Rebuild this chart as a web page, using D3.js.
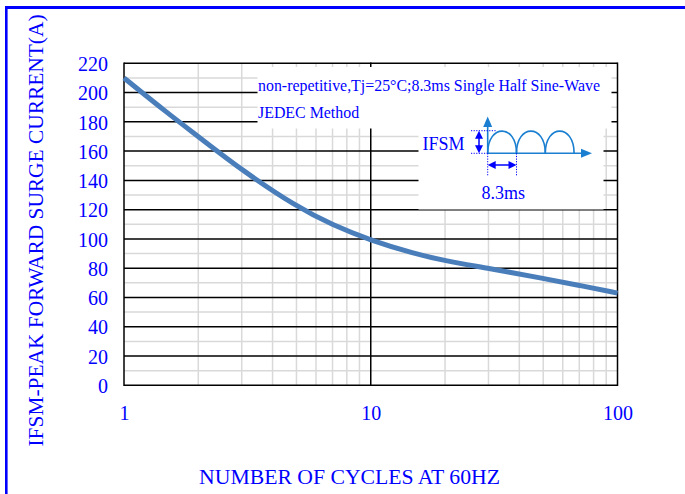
<!DOCTYPE html>
<html><head><meta charset="utf-8">
<script src="https://cdn.jsdelivr.net/npm/d3@7"></script>
<style>
html,body{margin:0;padding:0;background:#fff;}
svg{display:block;font-family:"Liberation Serif","Times New Roman",serif;}
</style></head>
<body>
<svg id="chart" width="685" height="494"></svg>
<script>
// ---- data ----
const cycles = [1, 1.5, 2, 3, 5, 7, 10, 15, 20, 30, 50, 70, 100];
const surge  = [210, 186, 170, 147, 122, 109.5, 99, 90, 85, 80, 73, 68.3, 63];
const yTicks = [0, 20, 40, 60, 80, 100, 120, 140, 160, 180, 200, 220];
const xTicks = [1, 10, 100];
const xMinor = [2,3,4,5,6,7,8,9,20,30,40,50,60,70,80,90];
const yMinor = [10,30,50,70,90,110,130,150,170,190,210];
const noteLines = ["non-repetitive,Tj=25°C;8.3ms Single Half Sine-Wave", "JEDEC Method"];
const xTitle = "NUMBER OF CYCLES AT 60HZ";
const yTitle = "IFSM-PEAK FORWARD SURGE CURRENT(A)";

(function () {
const svg = d3.select("#chart");
const L = 124, R = 617.5, T = 63.3, B = 385.3;
const x = d3.scaleLog().domain([1, 100]).range([L, R]);
const y = d3.scaleLinear().domain([0, 220]).range([B, T]);
const BLUE = "#0000ff";

// frame
svg.append("line").attr("x1", 5).attr("x2", 685).attr("y1", 7.5).attr("y2", 7.5).attr("stroke", BLUE).attr("stroke-width", 3);
svg.append("line").attr("x1", 6.3).attr("x2", 6.3).attr("y1", 6).attr("y2", 494).attr("stroke", BLUE).attr("stroke-width", 2.6);

// minor grid
const g = svg.append("g");
g.selectAll(".vm").data(xMinor).join("line")
  .attr("x1", d => x(d)).attr("x2", d => x(d)).attr("y1", T).attr("y2", B)
  .attr("stroke", "#d9d9d9").attr("stroke-width", 1.5);
g.selectAll(".hm").data(yMinor).join("line")
  .attr("x1", L).attr("x2", R).attr("y1", d => y(d)).attr("y2", d => y(d))
  .attr("stroke", "#d9d9d9").attr("stroke-width", 1.5);
// major grid
g.selectAll(".hM").data(yTicks).join("line")
  .attr("x1", L).attr("x2", R).attr("y1", d => y(d)).attr("y2", d => y(d))
  .attr("stroke", "#000").attr("stroke-width", 1.5);
g.selectAll(".vM").data(xTicks).join("line")
  .attr("x1", d => x(d)).attr("x2", d => x(d)).attr("y1", T - 0.75).attr("y2", B + 0.75)
  .attr("stroke", "#000").attr("stroke-width", 1.5);

// curve
const pts = cycles.map((c, i) => [c, surge[i]]);
svg.append("path").datum(pts)
  .attr("d", d3.line().x(d => x(d[0])).y(d => y(d[1])).curve(d3.curveBasis))
  .attr("fill", "none").attr("stroke", "#4a7ebb").attr("stroke-width", 5);

// axes labels
const ya = svg.append("g").attr("transform", `translate(${L},0)`)
  .call(d3.axisLeft(y).tickValues(yTicks).tickSize(0).tickPadding(16));
ya.select(".domain").remove();
ya.selectAll("text").attr("font-family", "Liberation Serif, serif").attr("font-size", 20).attr("fill", BLUE).attr("dy", "0.36em");

const xa = svg.append("g").attr("transform", `translate(0,${B})`)
  .call(d3.axisBottom(x).tickValues(xTicks).tickFormat(d3.format("d")).tickSize(0).tickPadding(21));
xa.select(".domain").remove();
xa.selectAll("text").attr("font-family", "Liberation Serif, serif").attr("font-size", 20).attr("fill", BLUE);

// titles
svg.append("text").attr("x", 349.5).attr("y", 484).attr("text-anchor", "middle")
  .attr("font-size", 21.7).attr("fill", BLUE).text(xTitle);
svg.append("text").attr("transform", "translate(43,230.5) rotate(-90)").attr("text-anchor", "middle")
  .attr("font-size", 21.4).attr("fill", BLUE).text(yTitle);

// white boxes
svg.append("rect").attr("x", 257.5).attr("y", 67).attr("width", 354).attr("height", 61.5).attr("fill", "#fff");
svg.append("rect").attr("x", 418.5).attr("y", 128).attr("width", 185).attr("height", 81.5).attr("fill", "#fff");

// note text
svg.selectAll(".note").data(noteLines).join("text")
  .attr("x", 258).attr("y", (d, i) => 91 + i * 26.6)
  .attr("font-size", 15.9).attr("fill", BLUE).text(d => d);

// diagram
const dg = svg.append("g");
const ox = 487.7, oy = 153.3, topY = 130.7, period = 28.8;
const ACC = "#1a7fd0";
dg.append("line").attr("x1", ox).attr("x2", ox).attr("y1", oy).attr("y2", 126).attr("stroke", ACC).attr("stroke-width", 1.6);
dg.append("path").attr("d", `M${ox - 4.5},127 L${ox},116.5 L${ox + 4.5},127 Z`).attr("fill", ACC);
dg.append("line").attr("x1", ox).attr("x2", 582).attr("y1", oy).attr("y2", oy).attr("stroke", ACC).attr("stroke-width", 1.6);
dg.append("path").attr("d", `M581,${oy - 4.5} L592,${oy} L581,${oy + 4.5} Z`).attr("fill", ACC);
const humps = [0, 1, 2];
dg.selectAll(".hump").data(humps).join("path")
  .attr("d", i => {
    const x0 = ox + i * period, x1 = x0 + period;
    return `M${x0},${oy} C${x0},${topY - 7} ${x1},${topY - 7} ${x1},${oy}`;
  })
  .attr("fill", "none").attr("stroke", ACC).attr("stroke-width", 1.6);
// dotted guides
const dot = (x1, y1, x2, y2) => dg.append("line").attr("x1", x1).attr("y1", y1).attr("x2", x2).attr("y2", y2)
  .attr("stroke", BLUE).attr("stroke-width", 1).attr("stroke-dasharray", "1.2,1.4");
dot(471, topY, 497, topY);
dot(471, oy, ox, oy);
dot(ox, oy, ox, 176);
dot(ox + period, oy, ox + period, 176);
// IFSM double arrow
const ax = 479;
dg.append("line").attr("x1", ax).attr("x2", ax).attr("y1", topY + 6).attr("y2", oy - 6).attr("stroke", BLUE).attr("stroke-width", 1.5);
dg.append("path").attr("d", `M${ax - 4},${topY + 8} L${ax},${topY} L${ax + 4},${topY + 8} Z`).attr("fill", BLUE);
dg.append("path").attr("d", `M${ax - 4},${oy - 8} L${ax},${oy} L${ax + 4},${oy - 8} Z`).attr("fill", BLUE);
// period double arrow
const ay = 165;
dg.append("line").attr("x1", ox + 6).attr("x2", ox + period - 6).attr("y1", ay).attr("y2", ay).attr("stroke", BLUE).attr("stroke-width", 1.5);
dg.append("path").attr("d", `M${ox + 8},${ay - 4} L${ox},${ay} L${ox + 8},${ay + 4} Z`).attr("fill", BLUE);
dg.append("path").attr("d", `M${ox + period - 8},${ay - 4} L${ox + period},${ay} L${ox + period - 8},${ay + 4} Z`).attr("fill", BLUE);
dg.append("text").attr("x", 422.5).attr("y", 149.5).attr("font-size", 18).attr("fill", BLUE).text("IFSM");
dg.append("text").attr("x", 481.5).attr("y", 198.5).attr("font-size", 18).attr("fill", BLUE).text("8.3ms");
})();
</script>
</body></html>
